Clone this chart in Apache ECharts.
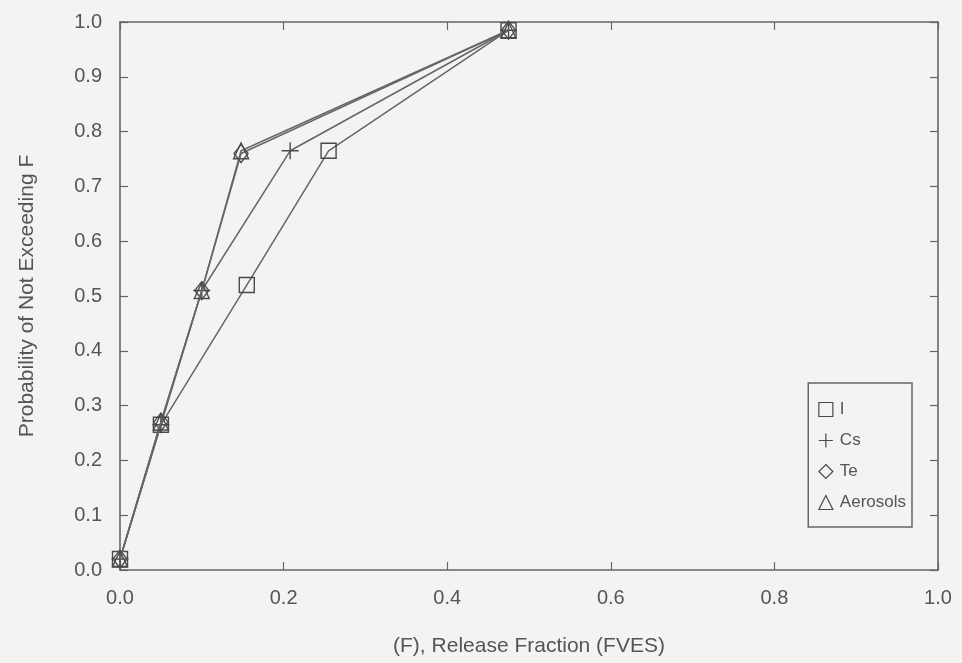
<!DOCTYPE html>
<html>
<head>
<meta charset="utf-8">
<script src="https://cdn.jsdelivr.net/npm/echarts@6/dist/echarts.min.js"></script>
<style>
html,body{margin:0;padding:0;background:#f3f3f1;}
#c{width:962px;height:663px;}
</style>
</head>
<body>
<div id="c"></div>
<script>
const seriesNames = ['I', 'Cs', 'Te', 'Aerosols'];
const xI = [0, 0.05, 0.155, 0.255, 0.475];
const yI = [0.02, 0.265, 0.52, 0.765, 0.985];
const xCs = [0, 0.05, 0.1, 0.208, 0.475];
const yCs = [0.02, 0.265, 0.51, 0.765, 0.985];
const xTe = [0, 0.05, 0.1, 0.148, 0.475];
const yTe = [0.02, 0.27, 0.51, 0.76, 0.985];
const xAer = [0, 0.05, 0.1, 0.148, 0.475];
const yAer = [0.02, 0.27, 0.51, 0.765, 0.985];
const xTicks = [0, 0.2, 0.4, 0.6, 0.8, 1.0];
const yTicks = [0, 0.1, 0.2, 0.3, 0.4, 0.5, 0.6, 0.7, 0.8, 0.9, 1.0];

const plusPath = 'path://M0,5L10,5M5,0L5,10';
const symbols = ['rect', plusPath, 'diamond', 'triangle'];
const sizes = [15, 17, [14, 18], [15, 16]];
const xs = [xI, xCs, xTe, xAer];
const ys = [yI, yCs, yTe, yAer];

const ink = '#4a4a4a';
const textCol = '#555';
const font = 'Liberation Sans';

const chart = echarts.init(document.getElementById('c'), null, {renderer: 'canvas'});

const series = seriesNames.map((n, i) => ({
  name: n,
  type: 'line',
  xAxisIndex: 0,
  yAxisIndex: 0,
  data: xs[i].map((x, k) => [x, ys[i][k]]),
  symbol: symbols[i],
  symbolSize: sizes[i],
  showAllSymbol: true,
  lineStyle: {color: '#666', width: 1.5},
  itemStyle: {color: 'transparent', borderColor: ink, borderWidth: 1.4},
  emphasis: {disabled: true},
  z: 3 + i
}));

const axisCommon = {
  type: 'value', min: 0, max: 1,
  splitLine: {show: false},
  axisLine: {show: true, onZero: false, lineStyle: {color: '#666', width: 1.6}},
  axisTick: {show: true, inside: true, length: 8, lineStyle: {color: '#666', width: 1.2}},
};

chart.setOption({
  backgroundColor: '#f3f3f1',
  animation: false,
  grid: {left: 120, right: 24, top: 22, bottom: 93},
  xAxis: [
    Object.assign({}, axisCommon, {
      position: 'bottom', interval: 0.2,
      axisLabel: {color: textCol, fontFamily: font, fontSize: 20, margin: 18,
        formatter: v => v.toFixed(1)},
      name: '(F), Release Fraction (FVES)',
      nameLocation: 'middle', nameGap: 66,
      nameTextStyle: {color: textCol, fontFamily: font, fontSize: 21}
    }),
    Object.assign({}, axisCommon, {
      position: 'top', interval: 0.2, axisLabel: {show: false}
    })
  ],
  yAxis: [
    Object.assign({}, axisCommon, {
      position: 'left', interval: 0.1,
      axisLabel: {color: textCol, fontFamily: font, fontSize: 20, margin: 18,
        formatter: v => v.toFixed(1)},
      name: 'Probability of Not Exceeding F',
      nameLocation: 'middle', nameGap: 82, nameRotate: 90,
      nameTextStyle: {color: textCol, fontFamily: font, fontSize: 21}
    }),
    Object.assign({}, axisCommon, {
      position: 'right', interval: 0.1, axisLabel: {show: false}
    })
  ],
  legend: {
    orient: 'vertical',
    right: 50, top: 383,
    backgroundColor: '#f3f3f1',
    borderColor: '#666', borderWidth: 1.5,
    padding: [18, 6, 16, 10],
    itemGap: 14,
    itemWidth: 14, itemHeight: 14,
    textStyle: {color: textCol, fontFamily: font, fontSize: 17, padding: [0, 0, 0, 2]},
    data: seriesNames.map((n, i) => ({
      name: n, icon: symbols[i],
      itemStyle: {color: 'transparent', borderColor: ink, borderWidth: 1.2}
    }))
  },
  series: series
});
</script>
</body>
</html>
